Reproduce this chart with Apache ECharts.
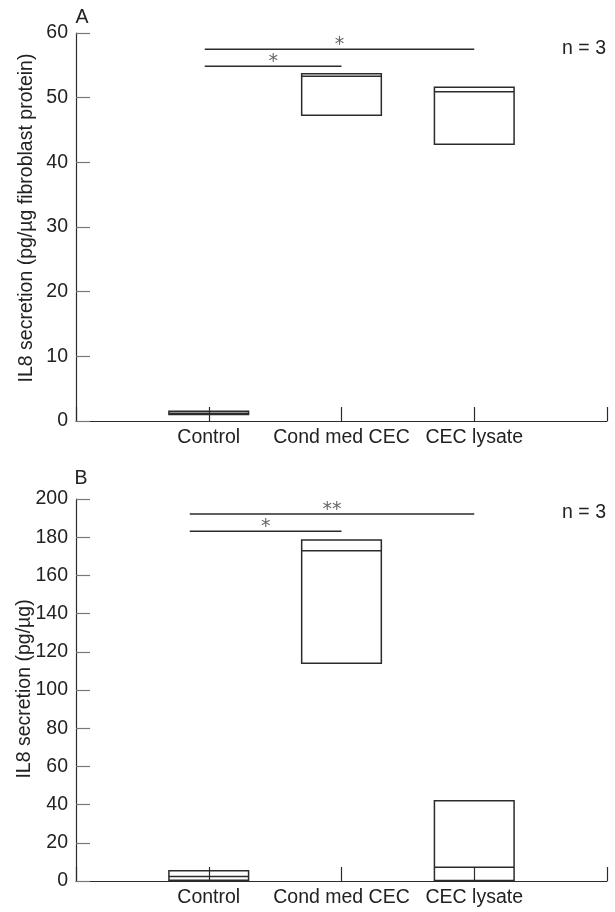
<!DOCTYPE html>
<html>
<head>
<meta charset="utf-8">
<title>IL8 secretion</title>
<script src="https://cdn.jsdelivr.net/npm/echarts@6/dist/echarts.min.js"></script>
<style>
  html, body { margin: 0; padding: 0; background: #fff; }
  #chart { width: 615px; height: 912px; }
</style>
</head>
<body>
<div id="chart"></div>
<script>
// Treatment groups along the horizontal axis
const categories = ['Control', 'Cond med CEC', 'CEC lysate'];

// Panel A: IL8 per µg fibroblast protein (min / median / max of n = 3)
const lowA  = [1.0, 47.3, 42.8];
const medA  = [1.2, 53.3, 50.9];
const highA = [1.5, 53.7, 51.6];

// Panel B: IL8 per µg (min / median / max of n = 3)
const lowB  = [0.4, 114.0, 0.2];
const medB  = [2.3, 172.9, 7.2];
const highB = [5.4, 178.5, 42.0];

// Y-axis ticks
const yTicksA = [0, 10, 20, 30, 40, 50, 60];
const yTicksB = [0, 20, 40, 60, 80, 100, 120, 140, 160, 180, 200];

// Significance brackets: groups compared, height of bar, marker
const sigFromA = ['Control', 'Control'];
const sigToA   = ['Cond med CEC', 'CEC lysate'];
const sigYA    = [54.85, 57.5];
const sigMarkA = ['*', '*'];

const sigFromB = ['Control', 'Control'];
const sigToB   = ['Cond med CEC', 'CEC lysate'];
const sigYB    = [183.1, 192.1];
const sigMarkB = ['*', '**'];

const FONT = '"Liberation Sans", Arial, sans-serif';
const STAR_FONT = '"DejaVu Sans", sans-serif';
const INK = '#2b2b2b';
const TEXT = '#222';
const FS = 19.5;

function boxData(lo, md, hi) {
  return categories.map((c, i) => [i + 1, lo[i], md[i], hi[i]]);
}
function sigData(from, to, ys, marks) {
  return ys.map((y, i) => [categories.indexOf(from[i]) + 1, categories.indexOf(to[i]) + 1, y, marks[i]]);
}

function renderBox(params, api) {
  const x = api.value(0);
  const pLo = api.coord([x, api.value(1)]);
  const pMd = api.coord([x, api.value(2)]);
  const pHi = api.coord([x, api.value(3)]);
  const half = api.size([0.6, 0])[0] / 2;
  return {
    type: 'group',
    children: [
      { type: 'rect', shape: { x: pLo[0] - half, y: pHi[1], width: half * 2, height: pLo[1] - pHi[1] }, style: { fill: 'none', stroke: INK, lineWidth: 1.5 } },
      { type: 'line', shape: { x1: pLo[0] - half, y1: pMd[1], x2: pLo[0] + half, y2: pMd[1] }, style: { stroke: INK, lineWidth: 1.5 } }
    ]
  };
}

const sigSource = {
  sigA: sigData(sigFromA, sigToA, sigYA, sigMarkA),
  sigB: sigData(sigFromB, sigToB, sigYB, sigMarkB)
};

// lead: how far the bracket starts left of the first group's centre, in px
function makeSigRenderer(lead) {
  return function (params, api) {
    const p0 = api.coord([api.value(0), api.value(2)]);
    const p1 = api.coord([api.value(1), api.value(2)]);
    const mark = sigSource[params.seriesName][params.dataIndex][3];
    const x0 = p0[0] - lead;
    const xm = (x0 + p1[0]) / 2;
    return {
      type: 'group',
      children: [
        { type: 'line', shape: { x1: x0, y1: p0[1], x2: p1[0], y2: p0[1] }, style: { stroke: INK, lineWidth: 1.5 } },
        { type: 'text', x: xm, y: p0[1] - 4, style: { text: mark, font: '19px ' + STAR_FONT, fill: '#666', align: 'center', verticalAlign: 'middle' } }
      ]
    };
  };
}

function xAxisFor(gridIndex) {
  return {
    type: 'value', gridIndex, min: 0, max: 4, interval: 1,
    axisLine: { lineStyle: { color: INK, width: 1.2 } },
    axisTick: { inside: true, length: 14, lineStyle: { color: INK, width: 1.2 } },
    splitLine: { show: false },
    axisLabel: {
      margin: 7, color: TEXT, fontFamily: FONT, fontSize: FS,
      formatter: v => categories[v - 1] || ''
    }
  };
}
function yAxisFor(gridIndex, ticks) {
  return {
    type: 'value', gridIndex, min: ticks[0], max: ticks[ticks.length - 1],
    interval: ticks[1] - ticks[0],
    axisLine: { show: true, lineStyle: { color: INK, width: 1.2 } },
    axisTick: { show: true, inside: true, length: 14, lineStyle: { color: '#777', width: 1.2 } },
    splitLine: { show: false },
    axisLabel: { margin: 8, color: TEXT, fontFamily: FONT, fontSize: FS }
  };
}

const chart = echarts.init(document.getElementById('chart'), null, { renderer: 'canvas' });
chart.setOption({
  backgroundColor: '#fff',
  animation: false,
  grid: [
    { left: 76, right: 8, top: 33, height: 388 },
    { left: 76, right: 8, top: 499, height: 382 }
  ],
  xAxis: [xAxisFor(0), xAxisFor(1)],
  yAxis: [yAxisFor(0, yTicksA), yAxisFor(1, yTicksB)],
  graphic: [
    { type: 'text', x: 82, y: 18, style: { text: 'A', font: FS + 'px ' + FONT, fill: TEXT, align: 'center', verticalAlign: 'middle' } },
    { type: 'text', x: 81, y: 479, style: { text: 'B', font: FS + 'px ' + FONT, fill: TEXT, align: 'center', verticalAlign: 'middle' } },
    { type: 'text', x: 606, y: 49, style: { text: 'n = 3', font: FS + 'px ' + FONT, fill: TEXT, align: 'right', verticalAlign: 'middle' } },
    { type: 'text', x: 606, y: 513, style: { text: 'n = 3', font: FS + 'px ' + FONT, fill: TEXT, align: 'right', verticalAlign: 'middle' } },
    { type: 'text', x: 27, y: 218, rotation: Math.PI / 2, style: { text: 'IL8 secretion (pg/µg fibroblast protein)', font: FS + 'px ' + FONT, fill: TEXT, align: 'center', verticalAlign: 'middle' } },
    { type: 'text', x: 25, y: 689, rotation: Math.PI / 2, style: { text: 'IL8 secretion (pg/µg)', font: FS + 'px ' + FONT, fill: TEXT, align: 'center', verticalAlign: 'middle' } }
  ],
  series: [
    { name: 'boxA', type: 'custom', xAxisIndex: 0, yAxisIndex: 0, renderItem: renderBox, encode: { x: 0, y: [1, 2, 3] }, data: boxData(lowA, medA, highA), silent: true },
    { name: 'boxB', type: 'custom', xAxisIndex: 1, yAxisIndex: 1, renderItem: renderBox, encode: { x: 0, y: [1, 2, 3] }, data: boxData(lowB, medB, highB), silent: true },
    { name: 'sigA', type: 'custom', xAxisIndex: 0, yAxisIndex: 0, renderItem: makeSigRenderer(4), encode: { x: [0, 1], y: 2 }, data: sigSource.sigA.map(d => d.slice(0, 3)), silent: true },
    { name: 'sigB', type: 'custom', xAxisIndex: 1, yAxisIndex: 1, renderItem: makeSigRenderer(19), encode: { x: [0, 1], y: 2 }, data: sigSource.sigB.map(d => d.slice(0, 3)), silent: true }
  ]
});
</script>
</body>
</html>
